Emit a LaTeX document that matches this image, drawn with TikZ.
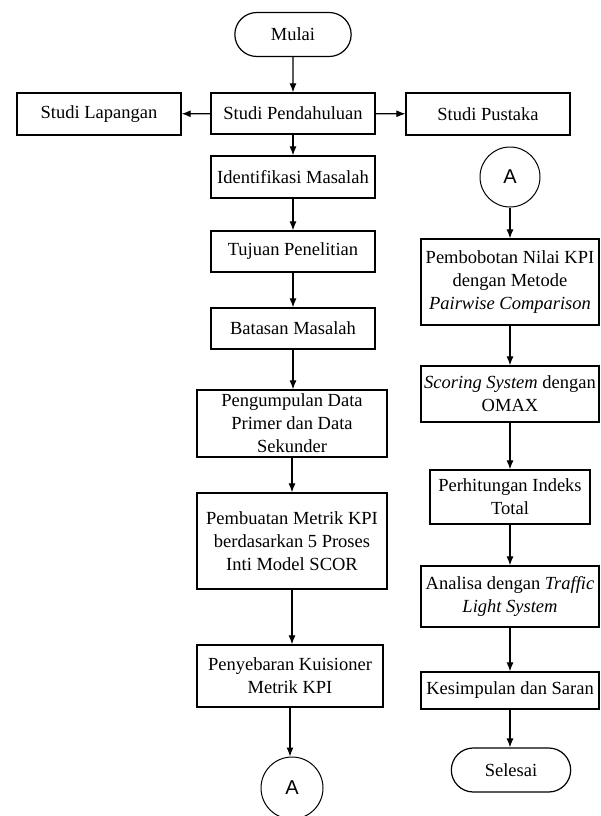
\documentclass[tikz,border=0pt]{standalone}
\usepackage{fontspec}
\setmainfont{Liberation Serif}
\setsansfont{Liberation Sans}
\usetikzlibrary{arrows.meta,shapes.misc}

\tikzset{
  box/.style={draw, line width=1.3pt, align=center, inner sep=2pt, minimum width=#1},
  box/.default=164pt,
  term/.style={draw, rounded rectangle, line width=1.2pt, minimum height=44pt},
  conn/.style={draw, circle, line width=1pt, minimum size=#1, inner sep=0pt,
    font=\fontsize{20}{22}\sffamily},
  conn/.default=62pt,
  flow/.style={-{Latex[length=9pt,width=7pt]}, line width=1.1pt},
}

\begin{document}
\begin{tikzpicture}[x=1pt, y=-1pt, font=\fontsize{18.5}{23}\selectfont]
\useasboundingbox (0,0) rectangle (601,816);

\def\xl{293}; % left column
\def\xr{510}; % right column

% left column
\node[term, minimum width=123pt] (mulai) at (\xl, 34.5) {Mulai};
\node[box, minimum height=41pt] (pendahuluan) at (\xl, 113.5) {Studi Pendahuluan};
\node[box, minimum height=42pt] (lapangan) at (99, 114) {Studi Lapangan};
\node[box, minimum height=42pt] (pustaka) at (488, 114) {Studi Pustaka};
\node[box, minimum height=42pt] (identifikasi) at (\xl, 177) {Identifikasi Masalah};
\node[box, minimum height=41pt] (tujuan) at (\xl, 251.5) {Tujuan Penelitian};
\node[box, minimum height=41pt] (batasan) at (\xl, 328.5) {Batasan Masalah};
\node[box=190pt, minimum height=67pt] (pengumpulan) at (292, 423.5)
  {Pengumpulan Data\\ Primer dan Data\\ Sekunder};
\node[box=190pt, minimum height=96pt] (pembuatan) at (292, 541)
  {Pembuatan Metrik KPI\\ berdasarkan 5 Proses\\ Inti Model SCOR};
\node[box=186pt, minimum height=62pt] (penyebaran) at (290, 676)
  {Penyebaran Kuisioner\\ Metrik KPI};
\node[conn] (konA) at (292, 788) {A};

% right column
\node[conn=60pt] (konB) at (\xr, 177) {A};
\node[box=178pt, minimum height=86pt] (pembobotan) at (\xr, 282)
  {Pembobotan Nilai KPI\\ dengan Metode\\ \textit{Pairwise Comparison}};
\node[box=178pt, minimum height=56pt] (scoring) at (\xr, 394)
  {\textit{Scoring System} dengan\\ OMAX};
\node[box=160pt, minimum height=54pt] (perhitungan) at (\xr, 497)
  {Perhitungan Indeks\\ Total};
\node[box=178pt, minimum height=61pt] (analisa) at (\xr, 596.5)
  {Analisa dengan \textit{Traffic}\\ \textit{Light System}};
\node[box=178pt, minimum height=37pt] (kesimpulan) at (\xr, 690.5) {Kesimpulan dan Saran};
\node[term, minimum width=126pt] (selesai) at (511, 770) {Selesai};

\draw[flow] (mulai) -- (pendahuluan);
\draw[flow] (pendahuluan) -- (lapangan);
\draw[flow] (pendahuluan) -- (pustaka);
\draw[flow] (pendahuluan) -- (identifikasi);
\draw[flow] (identifikasi) -- (tujuan);
\draw[flow] (tujuan) -- (batasan);
\draw[flow] (batasan) -- (batasan |- pengumpulan.north);
\draw[flow] (pengumpulan) -- (pembuatan);
\draw[flow] (pembuatan) -- (pembuatan |- penyebaran.north);
\draw[flow] (penyebaran) -- (penyebaran |- konA.north);

\draw[flow] (konB) -- (pembobotan);
\draw[flow] (pembobotan) -- (scoring);
\draw[flow] (scoring) -- (perhitungan);
\draw[flow] (perhitungan) -- (analisa);
\draw[flow] (analisa) -- (kesimpulan);
\draw[flow] (kesimpulan) -- (kesimpulan |- selesai.north);

\end{tikzpicture}
\end{document}
